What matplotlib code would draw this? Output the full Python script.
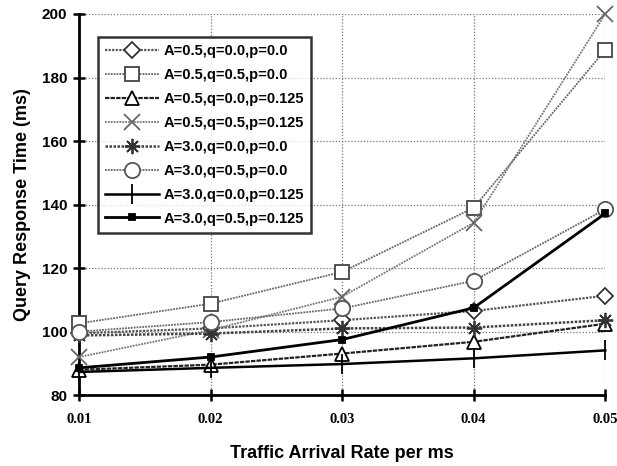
import matplotlib.pyplot as plt

rate = [0.01, 0.02, 0.03, 0.04, 0.05]

labels = ["A=0.5,q=0.0,p=0.0", "A=0.5,q=0.5,p=0.0", "A=0.5,q=0.0,p=0.125",
          "A=0.5,q=0.5,p=0.125", "A=3.0,q=0.0,p=0.0", "A=3.0,q=0.5,p=0.0",
          "A=3.0,q=0.0,p=0.125", "A=3.0,q=0.5,p=0.125"]

a05_q00_p0 = [99.5, 101.0, 103.6, 106.5, 111.3]
a05_q05_p0 = [102.6, 108.8, 118.8, 139.0, 188.7]
a05_q00_p125 = [88.0, 89.6, 93.1, 96.8, 102.5]
a05_q05_p125 = [92.0, 100.5, 111.0, 134.3, 200.0]
a30_q00_p0 = [98.8, 99.4, 101.0, 101.3, 103.6]
a30_q05_p0 = [100.0, 103.0, 107.3, 116.0, 138.5]
a30_q00_p125 = [87.3, 88.6, 89.8, 91.6, 94.1]
a30_q05_p125 = [88.6, 92.0, 97.5, 107.5, 137.2]

series = [a05_q00_p0, a05_q05_p0, a05_q00_p125, a05_q05_p125,
          a30_q00_p0, a30_q05_p0, a30_q00_p125, a30_q05_p125]

asterisk = (8, 2, 0)
markers = ["D", "s", "^", "x", asterisk, "o", "|", "s"]
msizes = [8, 10, 10, 11, 11, 11, 14, 5]
colors = ["#555555", "#666666", "#222222", "#777777", "#444444", "#666666", "black", "black"]
mfaces = ["white", "white", "white", "none", "none", "white", "black", "black"]
medges = ["#333333", "#444444", "black", "#666666", "#333333", "#555555", "black", "black"]
lstyles = [(0, (1, 0.6)), (0, (1, 0.6)), (0, (2, 0.5)), (0, (1, 0.6)),
           (0, (1, 0.6)), (0, (1, 0.6)), "-", "-"]
lwidths = [1.6, 1.3, 1.6, 1.3, 1.8, 1.3, 1.8, 2.0]

fig = plt.figure(figsize=(6.17, 4.66), dpi=100)
ax = fig.add_axes([0.128, 0.152, 0.853, 0.818])

for i, y in enumerate(series):
    ax.plot(rate, y, color=colors[i], ls=lstyles[i], lw=lwidths[i], marker=markers[i],
            ms=msizes[i], mfc=mfaces[i], mec=medges[i], mew=1.3, label=labels[i],
            clip_on=False, zorder=3 + i)

ax.set_xlim(0.01, 0.05)
ax.set_ylim(80, 200)
ax.set_xticks(rate)
ax.set_xticklabels(["0.01", "0.02", "0.03", "0.04", "0.05"],
                   fontfamily="Liberation Serif", fontweight="bold", fontsize=10.5)
ax.set_yticks(range(80, 201, 20))
ax.set_yticklabels([str(v) for v in range(80, 201, 20)],
                   fontfamily="Liberation Sans", fontweight="bold", fontsize=11)
ax.tick_params(direction="inout", length=9, width=1.8, color="black")
ax.tick_params(axis="x", pad=8)
ax.tick_params(axis="y", pad=4)

ax.grid(True, ls=(0, (1, 1.5)), color="#777777", lw=0.9)
ax.spines["top"].set_visible(False)
ax.spines["right"].set_visible(False)
ax.spines["left"].set_linewidth(2)
ax.spines["bottom"].set_linewidth(2)

ax.set_xlabel("Traffic Arrival Rate per ms", fontfamily="Liberation Sans",
              fontweight="bold", fontsize=13, labelpad=14)
ax.set_ylabel("Query Response Time (ms)", fontfamily="Liberation Sans",
              fontweight="bold", fontsize=13, labelpad=8)

leg = ax.legend(loc="upper left", bbox_to_anchor=(0.036, 0.94), frameon=True, fancybox=False,
                prop={"family": "Liberation Sans", "weight": "bold", "size": 10.5},
                handlelength=3.7, handletextpad=0.3, labelspacing=0.68, borderpad=0.5,
                borderaxespad=0)
leg.get_frame().set_edgecolor("black")
leg.get_frame().set_linewidth(1.8)
leg.set_zorder(20)

plt.savefig("out.png", dpi=100)
